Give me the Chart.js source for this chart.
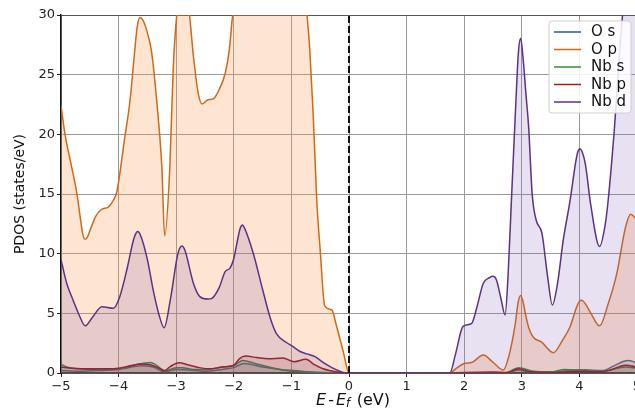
<!DOCTYPE html>
<html>
<head>
<meta charset="utf-8">
<script src="https://cdn.jsdelivr.net/npm/chart.js@4.4.1/dist/chart.umd.min.js"></script>
<style>
  html, body { margin: 0; padding: 0; background: #fff; overflow: hidden; width: 635px; height: 410px; }
  #wrap { width: 635px; height: 410px; overflow: hidden; position: relative; }
  canvas { display: block; }
</style>
</head>
<body>
<div id="wrap"><canvas id="c" width="660" height="410"></canvas></div>
<script>
// ---------------- data ----------------
const seriesLabels = ['O s', 'O p', 'Nb s', 'Nb p', 'Nb d'];
const xTicks = [-5, -4, -3, -2, -1, 0, 1, 2, 3, 4, 5];
const yTicks = [0, 5, 10, 15, 20, 25, 30];
const fermiLevel = 0;

const oS_E = [-5, -4.7, -4.4, -4, -3.6, -3.4, -3.2, -3.0, -2.8, -2.5, -2.2, -2.0, -1.82, -1.5, -1.2, -0.9, -0.6, 0,
              1.75, 2.7, 2.95, 3.15, 3.5, 3.8, 4.1, 4.4, 4.6, 4.84, 5];
const oS_V = [0.2, 0.15, 0.2, 0.3, 0.6, 0.5, 0.1, 0.3, 0.25, 0.15, 0.3, 0.45, 0.8, 0.5, 0.3, 0.18, 0.05, 0,
              0, 0, 0.25, 0.1, 0.1, 0.2, 0.28, 0.2, 0.6, 1.05, 0.85];

const oP_E = [-5, -4.93, -4.83, -4.73, -4.65, -4.62, -4.58, -4.54, -4.5, -4.4, -4.3, -4.18, -4.1, -4.03, -3.9, -3.8, -3.72, -3.68,
              -3.63, -3.57, -3.5, -3.43, -3.34, -3.25, -3.2, -3.11, -3.05, -2.98, -2.88, -2.78, -2.7, -2.62, -2.55, -2.45,
              -2.35, -2.25, -2.15, -2.08, -2.02, -1.9, -1.4, -1.0, -0.8, -0.73, -0.68, -0.62, -0.56, -0.5, -0.42, -0.3,
              -0.22, -0.1, 0,
              1.75, 1.85, 2.0, 2.13, 2.33, 2.5, 2.68, 2.78, 2.88, 2.94, 2.98, 3.02, 3.07, 3.12, 3.2, 3.34, 3.55, 3.7, 3.84,
              3.95, 4.0, 4.04, 4.09, 4.2, 4.35, 4.5, 4.65, 4.8, 4.89, 5];
const oP_V = [22.4, 20, 17.6, 15.2, 12.5, 11.6, 11.2, 11.4, 11.9, 13.1, 13.7, 13.9, 14.4, 15.2, 19.5, 22.9, 27, 28.9,
              29.8, 29.5, 28.5, 27, 22.9, 17.3, 11.5, 17.3, 25.7, 30.5, 33, 30.5, 26.5, 23.5, 22.55, 22.9,
              23, 23.8, 25.1, 27, 30, 34, 36, 35, 32, 30, 27, 21.5, 14.5, 10.3, 5.6, 5.3,
              4, 1.8, 0,
              0, 0.35, 0.8, 0.88, 1.5, 0.9, 0.25, 1.5, 3.9, 6.0, 6.5, 6.0, 4.8, 3.8, 3.0, 2.6, 1.7, 2.7, 3.9,
              5.5, 6.0, 6.1, 5.9, 5.0, 3.95, 5.8, 8.35, 12.2, 13.3, 12.8];

const nbS_E = [-5, -4.9, -4.7, -4.4, -4.0, -3.7, -3.45, -3.3, -3.2, -3.0, -2.9, -2.7, -2.5, -2.2, -2.0, -1.85, -1.6, -1.3, -1.0, -0.7, -0.3, 0,
               1.75, 2.7, 2.95, 3.2, 3.5, 3.75, 4.1, 4.4, 4.8, 5];
const nbS_V = [0.75, 0.5, 0.35, 0.3, 0.35, 0.7, 0.87, 0.5, 0.15, 0.45, 0.45, 0.3, 0.3, 0.5, 0.6, 1.05, 0.75, 0.4, 0.15, 0.08, 0.02, 0,
               0, 0, 0.45, 0.15, 0.1, 0.3, 0.2, 0.15, 0.5, 0.4];

const nbP_E = [-5, -4.8, -4.5, -4.2, -4, -3.8, -3.6, -3.45, -3.3, -3.2, -3.1, -2.95, -2.8, -2.6, -2.4, -2.2, -2.0, -1.9, -1.8,
               -1.6, -1.4, -1.15, -0.95, -0.75, -0.6, -0.45, -0.2, 0,
               1.75, 2.0, 2.5, 2.75, 2.95, 3.15, 3.5, 3.8, 4.0, 4.3, 4.5, 4.8, 5];
const nbP_V = [0.5, 0.4, 0.35, 0.35, 0.4, 0.6, 0.75, 0.7, 0.4, 0.2, 0.55, 0.85, 0.7, 0.45, 0.35, 0.5, 0.65, 1.2, 1.42,
               1.3, 1.2, 1.25, 0.95, 1.15, 0.7, 0.35, 0.08, 0,
               0, 0.05, 0.08, 0.05, 0.35, 0.1, 0.05, 0.1, 0.15, 0.1, 0.2, 0.65, 0.5];

const nbD_E = [-5, -4.9, -4.79, -4.68, -4.58, -4.45, -4.29, -4.09, -3.98, -3.85, -3.75, -3.71, -3.67, -3.62, -3.5, -3.4, -3.3, -3.21,
               -3.1, -2.98, -2.94, -2.9, -2.85, -2.7, -2.59, -2.45, -2.38, -2.25, -2.15, -2.07, -2.0, -1.92, -1.89, -1.85, -1.81,
               -1.66, -1.5, -1.36, -1.26, -1.1, -0.97, -0.85, -0.73, -0.59, -0.45, -0.25, -0.04,
               1.75, 1.85, 1.98, 2.13, 2.23, 2.33, 2.44, 2.5, 2.56, 2.64, 2.71, 2.76, 2.82, 2.9, 2.94, 2.98, 3.02, 3.07, 3.12,
               3.18, 3.25, 3.35, 3.45, 3.53, 3.62, 3.72, 3.84, 3.93, 3.97, 4.01, 4.05, 4.1, 4.2, 4.35, 4.45, 4.5, 4.6, 4.75, 4.9, 5];
const nbD_V = [9.5, 7.5, 6.1, 4.8, 3.95, 4.7, 5.56, 5.42, 6.4, 8.8, 11, 11.6, 11.85, 11.55, 9.5, 6.96, 4.9, 3.8,
               6.2, 9.8, 10.45, 10.65, 10.3, 7.5, 6.4, 6.2, 6.26, 7.2, 8.5, 8.77, 9.6, 11.5, 12.1, 12.4, 12.1,
               10.0, 7, 4.5, 3.3, 2.6, 2.2, 1.8, 1.6, 1.37, 0.9, 0.35, 0,
               0, 1.6, 3.9, 4.15, 5.7, 7.5, 8.0, 8.1, 7.8, 6.2, 4.86, 8, 14.5, 23, 26.8, 28.05, 26.5, 23.5, 20.5,
               15, 12.8, 11.7, 8, 5.7, 7.5, 11.15, 14.5, 17.5, 18.5, 18.8, 18.5, 17.6, 14, 10.6, 12.5, 14.5, 20, 30, 34, 36];

// ---------------- styling ----------------
const lineColors = ['#2a5b8c', '#cf6a17', '#3b8a3b', '#9e1c1c', '#5c3284'];
const fillColors = ['rgba(42,91,140,0.15)', 'rgba(248,150,70,0.25)', 'rgba(59,138,59,0.15)',
                    'rgba(158,28,28,0.15)', 'rgba(120,80,170,0.17)'];
const energies = [oS_E, oP_E, nbS_E, nbP_E, nbD_E];
const values = [oS_V, oP_V, nbS_V, nbP_V, nbD_V];
const FONT = "'DejaVu Sans', sans-serif";

const toPts = (xs, ys) => xs.map((x, i) => ({ x: x, y: ys[i] }));

const datasets = seriesLabels.map((lab, i) => ({
  label: lab,
  data: toPts(energies[i], values[i]),
  borderColor: lineColors[i],
  backgroundColor: fillColors[i],
  borderWidth: 1.5,
  fill: 'origin',
  pointRadius: 0,
  cubicInterpolationMode: 'monotone',
  clip: 0,
  order: 5 - i
}));
datasets.push({
  label: 'EF',
  data: [{ x: fermiLevel, y: yTicks[0] }, { x: fermiLevel, y: yTicks[yTicks.length - 1] }],
  borderColor: '#111',
  borderWidth: 2,
  borderDash: [7, 3],
  pointRadius: 0,
  fill: false,
  clip: 0,
  order: -1
});

const legendPlugin = {
  id: 'boxLegend',
  afterDraw(chart) {
    const { ctx, chartArea } = chart;
    const w = 82, h = 92;
    const x0 = chartArea.right - 6 - w, y0 = chartArea.top + 6;
    ctx.save();
    ctx.beginPath();
    ctx.roundRect(x0, y0, w, h, 3);
    ctx.fillStyle = 'rgba(255,255,255,0.85)';
    ctx.fill();
    ctx.strokeStyle = '#cfcfcf';
    ctx.lineWidth = 1;
    ctx.stroke();
    ctx.font = '15px ' + FONT;
    ctx.textBaseline = 'middle';
    ctx.textAlign = 'left';
    seriesLabels.forEach((lab, i) => {
      const yy = y0 + 11 + i * 17.5;
      ctx.beginPath();
      ctx.moveTo(x0 + 5, yy);
      ctx.lineTo(x0 + 32, yy);
      ctx.strokeStyle = lineColors[i];
      ctx.lineWidth = 1.5;
      ctx.stroke();
      ctx.fillStyle = '#111';
      ctx.fillText(lab, x0 + 42, yy + 0.5);
    });
    ctx.restore();
  }
};

const xTitlePlugin = {
  id: 'xTitle',
  afterDraw(chart) {
    const { ctx, chartArea } = chart;
    const xs = chart.scales.x;
    const parts = [
      { t: 'E', f: 'italic 16px ' + FONT, dy: 0, gap: 2 },
      { t: '-', f: '16px ' + FONT, dy: 0, gap: 2 },
      { t: 'E', f: 'italic 16px ' + FONT, dy: 0, gap: 0 },
      { t: 'f', f: 'italic 11.5px ' + FONT, dy: 3.5, gap: 1.5 },
      { t: ' (eV)', f: '16px ' + FONT, dy: 0, gap: 0 }
    ];
    ctx.save();
    let total = 0;
    parts.forEach(p => { ctx.font = p.f; p.w = ctx.measureText(p.t).width + p.gap; total += p.w; });
    let x = (chartArea.left + chartArea.right) / 2 + 4 - total / 2;
    const y = xs.bottom - 9;
    ctx.fillStyle = '#111';
    ctx.textBaseline = 'middle';
    ctx.textAlign = 'left';
    parts.forEach(p => { ctx.font = p.f; ctx.fillText(p.t, x, y + p.dy); x += p.w; });
    ctx.restore();
  }
};

const fmt = v => String(v).replace('-', '\u2212');

new Chart(document.getElementById('c'), {
  type: 'line',
  data: { datasets },
  options: {
    responsive: false,
    animation: false,
    devicePixelRatio: 1,
    layout: { padding: { left: 0, top: 15, right: 23, bottom: 0 } },
    plugins: { legend: { display: false }, tooltip: { enabled: false } },
    scales: {
      x: {
        type: 'linear',
        min: xTicks[0], max: xTicks[xTicks.length - 1],
        afterBuildTicks: s => { s.ticks = xTicks.map(v => ({ value: v })); },
        ticks: { callback: v => fmt(v), font: { family: FONT, size: 13 }, color: '#222', padding: 2, maxRotation: 0, autoSkip: false },
        grid: { color: '#9a9a9a', lineWidth: 1, tickLength: 4, tickColor: '#222' },
        border: { color: '#111', width: 1.5 },
        afterFit: s => { s.height = 37; }
      },
      y: {
        min: yTicks[0], max: yTicks[yTicks.length - 1],
        afterBuildTicks: s => { s.ticks = yTicks.map(v => ({ value: v })); },
        ticks: { font: { family: FONT, size: 13 }, color: '#222', padding: 2 },
        grid: { color: c => (c.tick && c.tick.value === 30 ? '#555' : '#9a9a9a'), lineWidth: 1, tickLength: 4, tickColor: '#222' },
        border: { color: '#111', width: 1.5 },
        title: { display: true, text: 'PDOS (states/eV)', font: { family: FONT, size: 14 }, color: '#111', padding: { top: 12, bottom: 0 } },
        afterFit: s => { s.width = 61; }
      }
    }
  },
  plugins: [legendPlugin, xTitlePlugin]
});
</script>
</body>
</html>
